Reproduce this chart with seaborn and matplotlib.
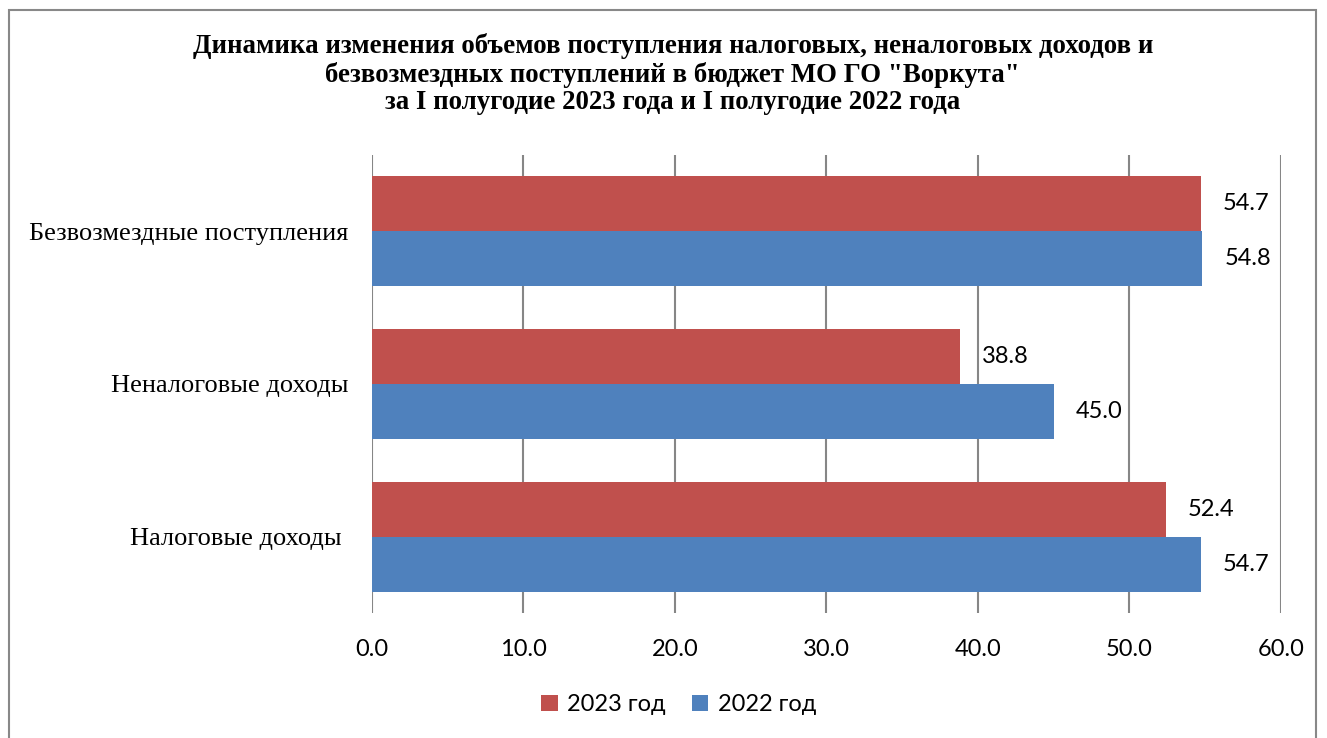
import numpy as np
import pandas as pd
import seaborn as sns
import matplotlib.pyplot as plt
from matplotlib.patches import Rectangle

categories = ["Безвозмездные поступления", "Неналоговые доходы", "Налоговые доходы "]
years = ["2023 год", "2022 год"]
values_2023 = [54.7, 38.8, 52.4]
values_2022 = [54.8, 45.0, 54.7]
x_ticks = [0, 10, 20, 30, 40, 50, 60]

df = pd.DataFrame({
    "cat": categories * 2,
    "year": [years[0]] * 3 + [years[1]] * 3,
    "value": values_2023 + values_2022,
})

sns.set_theme(style="white")
plt.rcParams['font.family'] = ['Lato', 'DejaVu Sans']
plt.rcParams['text.color'] = 'black'
plt.rcParams['xtick.color'] = 'black'
plt.rcParams['ytick.color'] = 'black'

fig = plt.figure(figsize=(13.27, 7.38), dpi=100)
ax = fig.add_axes([0.2803, 0.1694, 0.685, 0.6206])

sns.barplot(data=df, x="value", y="cat", hue="year", order=categories,
            hue_order=years, palette=["#C0504D", "#4F81BD"], orient="h",
            width=0.72, saturation=1, linewidth=0, ax=ax, legend=True)

for cont in ax.containers:
    ax.bar_label(cont, fmt="%.1f", padding=16, fontsize=17, family="Lato", color="black")

ax.set_xlim(0, 60)
ax.set_ylim(2.5, -0.5)
ax.set_xticks(x_ticks)
ax.set_xticklabels([f"{t:.1f}" for t in x_ticks], fontsize=17)
ax.tick_params(axis="x", length=0, pad=19)
ax.tick_params(axis="y", length=0, pad=17)
for lab in ax.get_yticklabels():
    lab.set_family("Liberation Serif")
    lab.set_fontsize(19)
ax.set_xlabel("")
ax.set_ylabel("")
ax.xaxis.grid(True, color="#868686", linewidth=1.5)
ax.set_axisbelow(True)
for s in ax.spines.values():
    s.set_visible(False)

handles, labels = ax.get_legend_handles_labels()
ax.get_legend().remove()
fig.legend(handles, labels, loc="center", bbox_to_anchor=(0.5113, 0.045), ncol=2,
           frameon=False, fontsize=17, handlelength=0.7, handleheight=0.7,
           handletextpad=0.4, columnspacing=1.1)

fig.text(0.507, 0.8997,
         "Динамика изменения объемов поступления налоговых, неналоговых доходов и\n"
         "безвозмездных поступлений в бюджет МО ГО \"Воркута\"\n"
         "за I полугодие 2023 года и I полугодие 2022 года",
         ha="center", va="center", fontsize=19.4, fontweight="bold",
         family="Liberation Serif", linespacing=1.12, color="black")

fig.patches.append(Rectangle((9 / 1327, -0.05), 1307 / 1327, 1.05 - 10 / 738,
                             transform=fig.transFigure, fill=False,
                             edgecolor="#888888", linewidth=1.5))

fig.savefig("out.png", dpi=100)
